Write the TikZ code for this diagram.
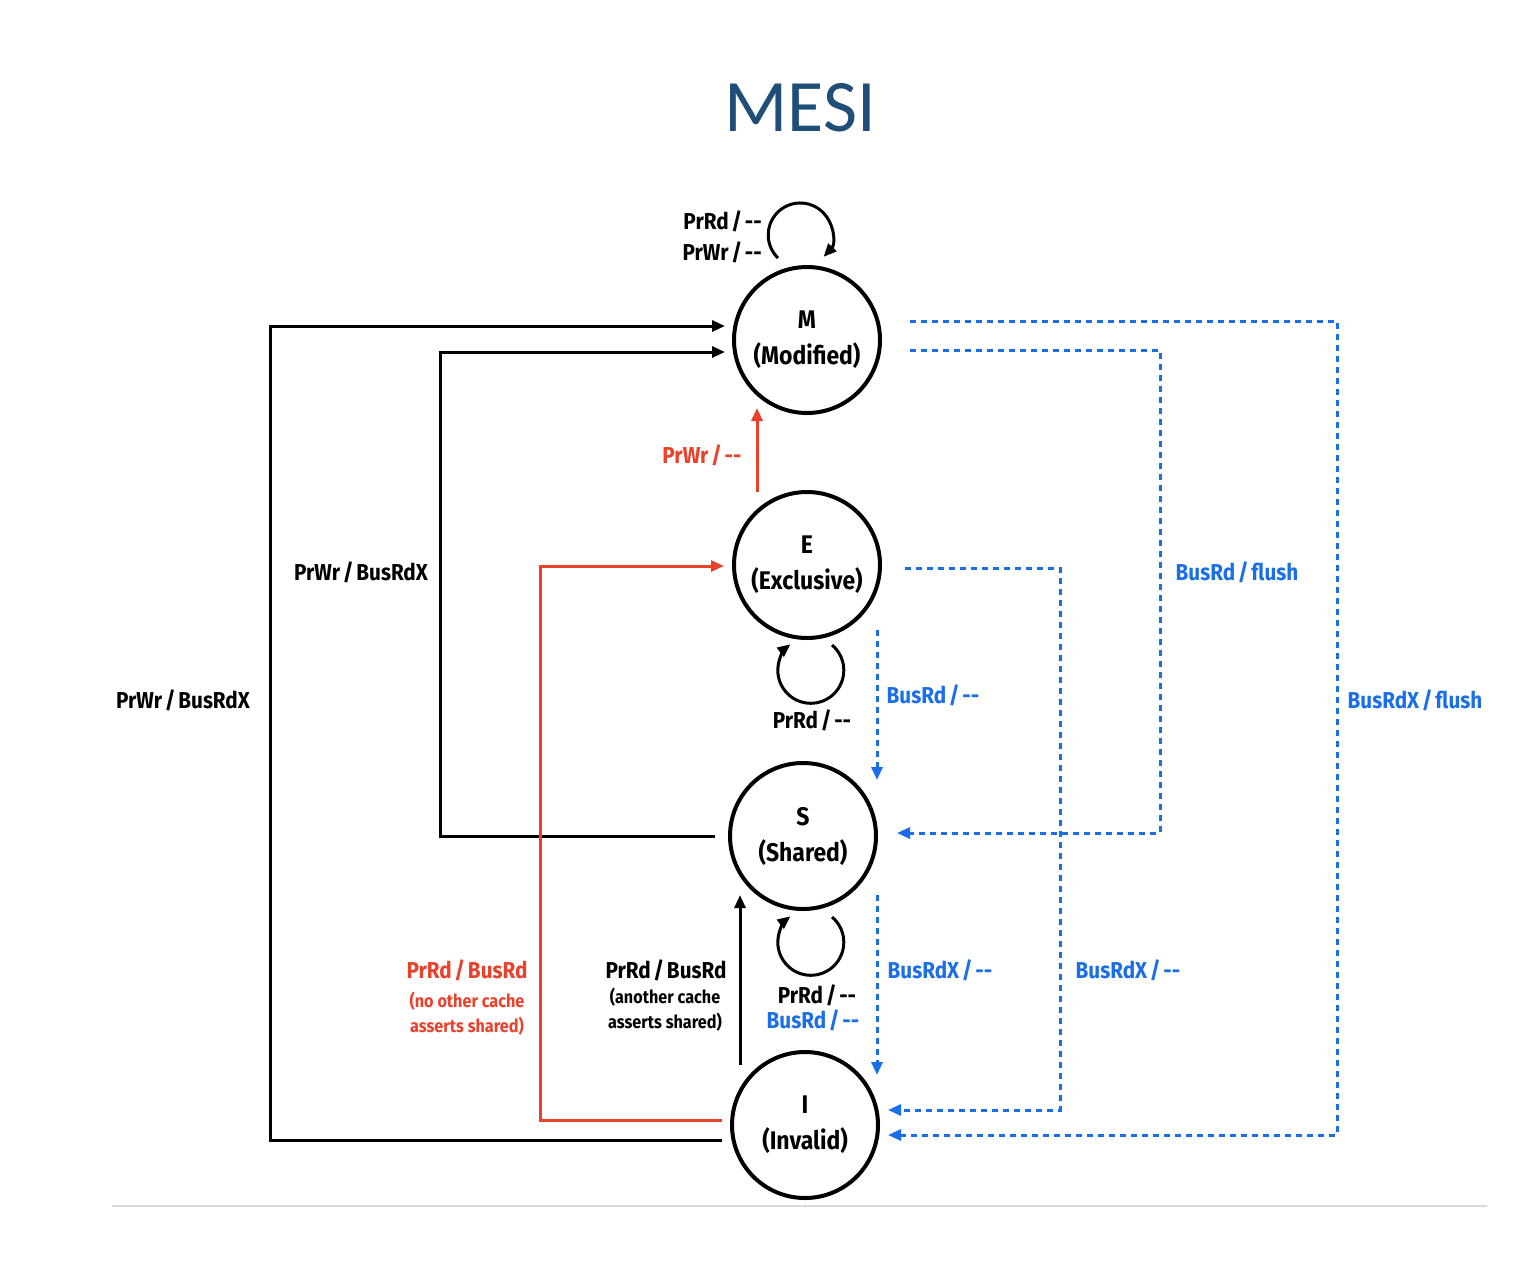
\documentclass[tikz,border=0pt]{standalone}
\usepackage{fontspec}
\setmainfont{Fira Sans}[FakeStretch=0.9]
\newfontfamily\titlefont{Carlito}
\usetikzlibrary{arrows.meta}
\definecolor{mblue}{RGB}{26,110,232}
\definecolor{mred}{RGB}{232,65,44}
\definecolor{tblue}{RGB}{31,78,121}
\newcommand{\slsh}{\hspace{0.12em}/\hspace{0.12em}}
\newcommand{\nop}{-{}-}
\begin{document}
\begin{tikzpicture}[x=1pt,y=-1pt,
  state/.style={circle,draw,line width=4pt,minimum size=146pt,inner sep=0pt,align=center,font=\bfseries\fontsize{25.5}{36}\selectfont},
  lbl/.style={font=\bfseries\fontsize{23}{28}\selectfont,inner sep=0pt},
  small/.style={font=\bfseries\fontsize{18}{25}\selectfont,inner sep=0pt},
  con/.style={line width=3pt},
  arr/.style={-{Triangle[length=13pt,width=11pt]}},
  bd/.style={mblue,line width=3pt,dash pattern=on 6pt off 5pt},
]
\useasboundingbox (0,0) rectangle (1536,1264);
\fill[white] (0,0) rectangle (1536,1264);

\node[font=\titlefont\fontsize{74}{80}\selectfont,text=tblue] (title) at (800,108) {MESI};

\node[state] (M) at (807,340) {M\\(Modified)};
\node[state] (E) at (807,565) {E\\(Exclusive)};
\node[state] (S) at (803,836) {S\\(Shared)};
\node[state] (I) at (805,1125) {I\\(Invalid)};

% black connectors
\draw[con,arr] ([shift={(-8,15)}]I.west) -| (270,326) -- ([shift={(-7,-14)}]M.west);
\draw[con,arr] ([shift={(-13,0)}]S.west) -| (440,352) -- ([shift={(-7,12)}]M.west);
\draw[con,arr] ([shift={(-65,15)}]I.north) -- ([shift={(-63,-16)}]S.south);

% red connectors
\draw[con,mred,arr] ([shift={(-8,-5)}]I.west) -| (540,566) -- ([shift={(-8,1)}]E.west);
\draw[con,mred,arr] ([shift={(-50,2)}]E.north) -- ([shift={(-50,-7)}]M.south);

% self loops
\draw[con,arr] ([shift={(-29,-82)}]M.center) arc[start angle=134,end angle=403,radius=32];
\draw[con,arr] ([shift={(25,80)}]E.center) arc[start angle=-50,end angle=232,radius=33];
\draw[con,arr] ([shift={(29,81)}]S.center) arc[start angle=-50,end angle=232,radius=33];

% blue dashed
\draw[bd,arr] ([shift={(28,-19)}]M.east) -| (1337,1135) -- ([shift={(8,10)}]I.east);
\draw[bd,arr] ([shift={(28,10)}]M.east) -| (1160,833) -- ([shift={(19,-3)}]S.east);
\draw[bd,arr] ([shift={(23,3)}]E.east) -| (1060,1110) -- ([shift={(8,-15)}]I.east);
\draw[bd,arr] ([shift={(70,65)}]E.center) -- ([shift={(74,-56)}]S.center);
\draw[bd,arr] ([shift={(74,59)}]S.center) -- ([shift={(72,-50)}]I.center);

% labels
\node[lbl,anchor=east] (lM1) at (762,221) {PrRd\slsh\nop};
\node[lbl,anchor=east] (lM2) at (762,252) {PrWr\slsh\nop};
\node[lbl,text=mred] (lEM) at (702,455) {PrWr\slsh\nop};
\node[lbl] (lSM) at (361,572) {PrWr\slsh BusRdX};
\node[lbl] (lIM) at (183,700) {PrWr\slsh BusRdX};
\node[lbl] (lE) at (812,720) {PrRd\slsh\nop};
\node[lbl,text=mblue] (lMS) at (1237,572) {BusRd\slsh flush};
\node[lbl,text=mblue] (lMI) at (1415,700) {BusRdX\slsh flush};
\node[lbl,text=mblue] (lES) at (933,695) {BusRd\slsh\nop};
\node[lbl,text=mblue] (lSI) at (940,970) {BusRdX\slsh\nop};
\node[lbl,text=mblue] (lEI) at (1128,970) {BusRdX\slsh\nop};
\node[lbl] (lS1) at (817,995) {PrRd\slsh\nop};
\node[lbl,text=mblue] (lS2) at (813,1020) {BusRd\slsh\nop};
\node[lbl,text=mred] (lIE) at (467,970) {PrRd\slsh BusRd};
\node[small,text=mred] (lIE2) at (467,1001) {(no other cache};
\node[small,text=mred] (lIE3) at (467,1026) {asserts shared)};
\node[lbl] (lIS) at (666,970) {PrRd\slsh BusRd};
\node[small] (lIS2) at (665,997) {(another cache};
\node[small] (lIS3) at (665,1022) {asserts shared)};

\draw[black!15,line width=1.5pt] (112,1206) coordinate (g1) -- (1487,1206) coordinate (g2);
\end{tikzpicture}
\end{document}
